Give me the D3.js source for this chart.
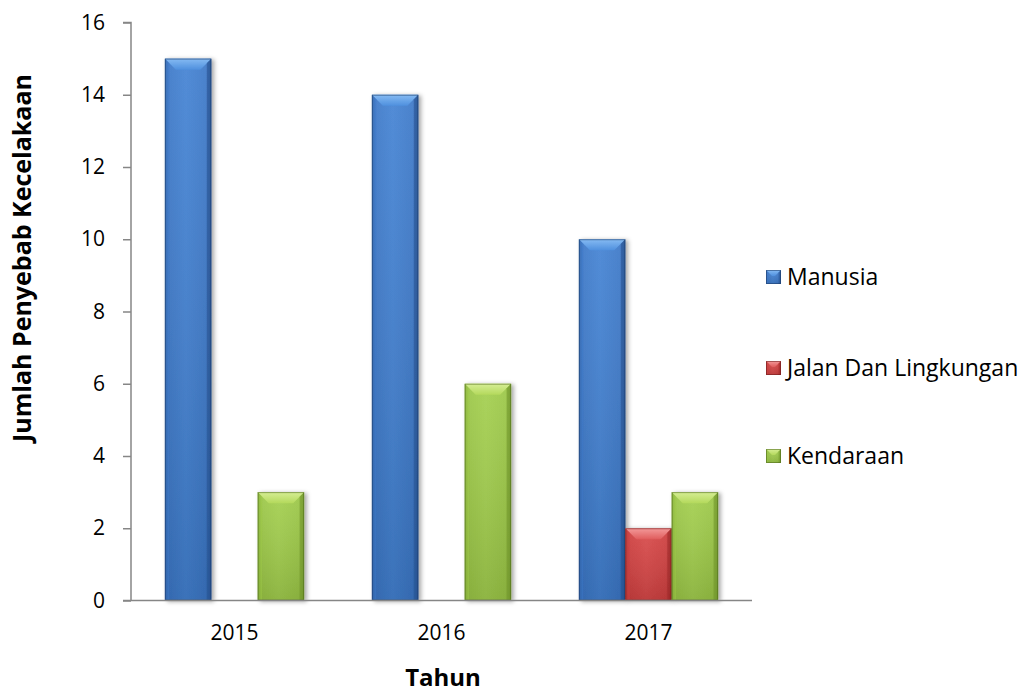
<!DOCTYPE html>
<html>
<head>
<meta charset="utf-8">
<script src="https://cdn.jsdelivr.net/npm/d3@7"></script>
<style>
  html, body { margin: 0; padding: 0; background: #ffffff; }
  svg { display: block; }
</style>
</head>
<body>
<svg id="chart" width="1026" height="693"></svg>
<script>
// ---- data ----
const years = ["2015", "2016", "2017"];
const seriesNames = ["Manusia", "Jalan Dan Lingkungan", "Kendaraan"];
const manusia = [15, 14, 10];
const jalanDanLingkungan = [0, 0, 2];
const kendaraan = [3, 6, 3];
const yTicks = [0, 2, 4, 6, 8, 10, 12, 14, 16];
const yTitle = "Jumlah Penyebab Kecelakaan";
const xTitle = "Tahun";

const seriesValues = [manusia, jalanDanLingkungan, kendaraan];

const palettes = [
  { top: "#86bbf3", topB: "#4f90de", body: "#3c78c8", light: "#4382d3", dark: "#2a5797", edge: "#1c3b68" },
  { top: "#f39a9a", topB: "#e05d5d", body: "#cf3f3f", light: "#d84848", dark: "#a32b2b", edge: "#6e1b1b" },
  { top: "#d6ee95", topB: "#b4d95c", body: "#9bc746", light: "#a3cf4e", dark: "#769c2e", edge: "#4f6a1c" }
];

const svg = d3.select("#chart");
const font = "'Open Sans', 'Liberation Sans', sans-serif";

const margin = { left: 131, right: 752, top: 22.5, bottom: 600.5 };

const x0 = d3.scaleBand().domain(years).range([margin.left, margin.right]).paddingInner(0).paddingOuter(0);
const x1 = d3.scaleBand().domain(seriesNames).range([0, x0.bandwidth()]).paddingInner(0).paddingOuter(0.73);
const y = d3.scaleLinear().domain([0, 16]).range([margin.bottom, margin.top]);

const defs = svg.append("defs");
const shadow = defs.append("filter").attr("id", "shadow").attr("x", "-20%").attr("y", "-5%").attr("width", "150%").attr("height", "115%");
shadow.append("feDropShadow").attr("dx", 2.5).attr("dy", 1).attr("stdDeviation", 2).attr("flood-color", "#000").attr("flood-opacity", 0.35);

palettes.forEach((p, i) => {
  const gh = defs.append("linearGradient").attr("id", "body" + i).attr("x1", 0).attr("x2", 1).attr("y1", 0).attr("y2", 0);
  gh.append("stop").attr("offset", "0%").attr("stop-color", p.dark);
  gh.append("stop").attr("offset", "8%").attr("stop-color", p.body);
  gh.append("stop").attr("offset", "45%").attr("stop-color", p.light);
  gh.append("stop").attr("offset", "88%").attr("stop-color", p.body);
  gh.append("stop").attr("offset", "100%").attr("stop-color", p.dark);
  const gt = defs.append("linearGradient").attr("id", "top" + i).attr("x1", 0).attr("x2", 0).attr("y1", 0).attr("y2", 1);
  gt.append("stop").attr("offset", "0%").attr("stop-color", p.top);
  gt.append("stop").attr("offset", "100%").attr("stop-color", p.topB);
  const gv = defs.append("linearGradient").attr("id", "shade" + i).attr("x1", 0).attr("x2", 0).attr("y1", 0).attr("y2", 1);
  gv.append("stop").attr("offset", "0%").attr("stop-color", "#ffffff").attr("stop-opacity", 0.08);
  gv.append("stop").attr("offset", "100%").attr("stop-color", "#000000").attr("stop-opacity", 0.12);
});

function bevelBar(g, bx, by, w, h, i, bev, useShadow) {
  const p = palettes[i];
  const grp = g.append("g");
  if (useShadow) grp.attr("filter", "url(#shadow)");
  grp.append("rect").attr("x", bx).attr("y", by).attr("width", w).attr("height", h)
    .attr("fill", "url(#body" + i + ")");
  grp.append("rect").attr("x", bx).attr("y", by).attr("width", w).attr("height", h)
    .attr("fill", "url(#shade" + i + ")");
  const b = Math.min(bev, h / 2, w / 2);
  // top bevel trapezoid
  grp.append("path")
    .attr("d", `M${bx},${by}L${bx + w},${by}L${bx + w - b},${by + b}L${bx + b},${by + b}Z`)
    .attr("fill", "url(#top" + i + ")");
  // left bevel
  grp.append("path")
    .attr("d", `M${bx},${by}L${bx + b * 0.4},${by + b * 0.4}L${bx + b * 0.4},${by + h}L${bx},${by + h}Z`)
    .attr("fill", p.body).attr("opacity", 0.5);
  // right bevel
  grp.append("path")
    .attr("d", `M${bx + w},${by}L${bx + w - b * 0.4},${by + b * 0.4}L${bx + w - b * 0.4},${by + h}L${bx + w},${by + h}Z`)
    .attr("fill", p.dark).attr("opacity", 0.6);
  // outline
  grp.append("rect").attr("x", bx + 0.5).attr("y", by + 0.5).attr("width", w - 1).attr("height", h - 1)
    .attr("fill", "none").attr("stroke", p.edge).attr("stroke-width", 1).attr("stroke-opacity", 0.55);
}

// ---- bars ----
const barLayer = svg.append("g");
years.forEach((yr, yi) => {
  seriesNames.forEach((s, si) => {
    const v = seriesValues[si][yi];
    if (v <= 0) return;
    const bx = x0(yr) + x1(s);
    const by = y(v);
    bevelBar(barLayer, bx, by, x1.bandwidth(), y(0) - by, si, 11, true);
  });
});

// ---- axes ----
const axisColor = "#868686";
const yAxis = svg.append("g").attr("transform", `translate(${margin.left},0)`)
  .call(d3.axisLeft(y).tickValues(yTicks).tickSize(8).tickPadding(18).tickFormat(d3.format("d")));
yAxis.select(".domain").attr("stroke", axisColor).attr("stroke-width", 1.5).attr("d", `M-8,${y(16)}H0V${y(0)}`);
yAxis.selectAll(".tick line").attr("stroke", axisColor).attr("stroke-width", 1.5);
yAxis.selectAll(".tick text").attr("font-family", font).attr("font-size", 21).attr("fill", "#000");

const xAxis = svg.append("g").attr("transform", `translate(0,${y(0)})`)
  .call(d3.axisBottom(x0).tickSize(0).tickPadding(25));
xAxis.select(".domain").attr("stroke", axisColor).attr("stroke-width", 1.5).attr("d", `M${margin.left - 8},0H${margin.right}`);
xAxis.selectAll(".tick text").attr("font-family", font).attr("font-size", 21).attr("fill", "#000");

// ---- titles ----
svg.append("text")
  .attr("transform", `translate(31,258) rotate(-90)`)
  .attr("text-anchor", "middle")
  .attr("font-family", font).attr("font-weight", "bold").attr("font-size", 25)
  .text(yTitle);

svg.append("text")
  .attr("x", 443)
  .attr("y", 686)
  .attr("text-anchor", "middle")
  .attr("font-family", font).attr("font-weight", "bold").attr("font-size", 24)
  .text(xTitle);

// ---- legend ----
const legendY = [277, 368, 456];
const legend = svg.append("g");
seriesNames.forEach((s, i) => {
  bevelBar(legend, 766, legendY[i] - 7, 15, 14, i, 6, false);
  legend.append("text")
    .attr("x", 787).attr("y", legendY[i] + 8)
    .attr("font-family", font).attr("font-size", 23).attr("fill", "#000")
    .text(s);
});
</script>
</body>
</html>
